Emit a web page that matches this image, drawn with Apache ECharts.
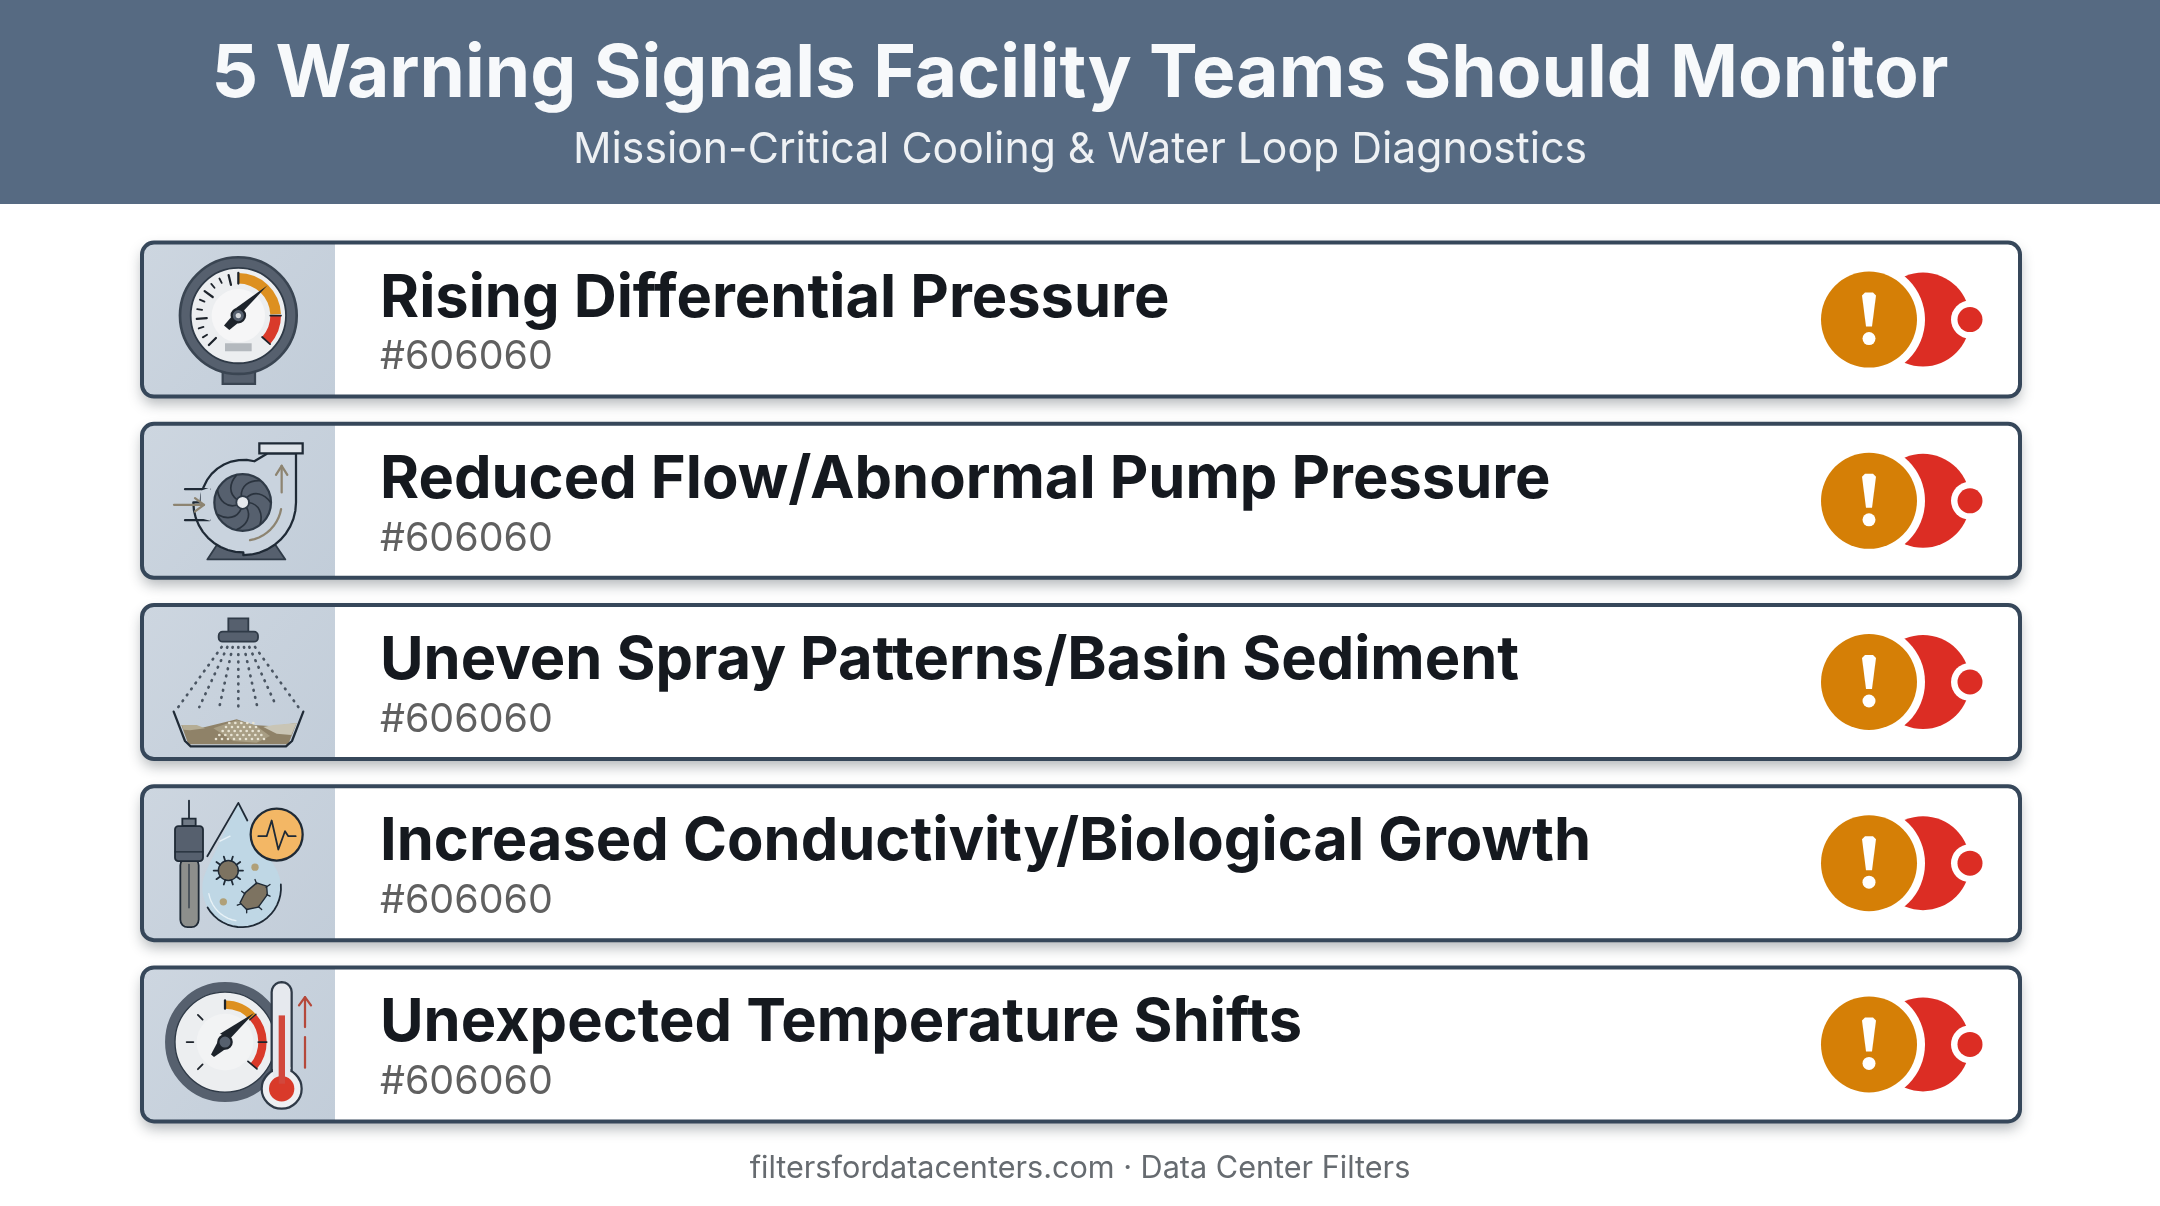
<!DOCTYPE html>
<html>
<head>
<meta charset="utf-8">
<title>5 Warning Signals</title>
<script src="https://cdn.jsdelivr.net/npm/echarts@6/dist/echarts.min.js"></script>
<style>
html,body{margin:0;padding:0;background:#fff;}
#main{width:2160px;height:1206px;}
</style>
</head>
<body>
<div id="main"></div>
<script>
var mainTitle = "5 Warning Signals Facility Teams Should Monitor";
var subTitle = "Mission-Critical Cooling & Water Loop Diagnostics";
var footerText = "filtersfordatacenters.com · Data Center Filters";
var signalTitles = ["Rising Differential Pressure","Reduced Flow/Abnormal Pump Pressure","Uneven Spray Patterns/Basin Sediment","Increased Conductivity/Biological Growth","Unexpected Temperature Shifts"];
var signalNotes = ["#606060","#606060","#606060","#606060","#606060"];
var signalIcons = ["gauge","pump","spray","probe","thermo"];

var DARK = "#36475a", STEEL = "#56606e", TAN = "#8d8471";
var WIDEN = 1.35;

/*图形小函数*/
function circ(x,y,r,fill,stroke,lw){
    return {type:"circle",shape:{cx:x,cy:y,r:r},style:{fill:fill||null,stroke:stroke||null,lineWidth:(lw||0)*WIDEN}};
}
function rect(x,y,w,h,fill,stroke,lw,r){
    return {type:"rect",shape:{x:x,y:y,width:w,height:h,r:r||0},style:{fill:fill||null,stroke:stroke||null,lineWidth:(lw||0)*WIDEN}};
}
function line(pts,stroke,lw,dash){
    return {type:"polyline",shape:{points:pts},style:{fill:null,stroke:stroke,lineWidth:lw*WIDEN,lineCap:"round",lineJoin:"round",lineDash:dash||null}};
}
function poly(pts,fill,stroke,lw){
    return {type:"polygon",shape:{points:pts},style:{fill:fill||null,stroke:stroke||null,lineWidth:(lw||0)*WIDEN,lineJoin:"round"}};
}
function sect(x,y,r0,r,a0,a1,fill){
    return {type:"sector",shape:{cx:x,cy:y,r0:r0,r:r,startAngle:a0*Math.PI/180,endAngle:a1*Math.PI/180,clockwise:true},style:{fill:fill}};
}
function arc(x,y,r,a0,a1,n){
    var pts = [];
    for(var i=0;i<=n;i++){
        var a = (a0+(a1-a0)*i/n)*Math.PI/180;
        pts.push([x+r*Math.cos(a),y+r*Math.sin(a)]);
    }
    return pts;
}
function ray(x,y,r0,r,deg,stroke,lw){
    var a = deg*Math.PI/180;
    return line([[x+r0*Math.cos(a),y+r0*Math.sin(a)],[x+r*Math.cos(a),y+r*Math.sin(a)]],stroke,lw);
}

/*图标, 坐标是放大3倍后的像素*/
function gaugeIcon(){
    var c = [];
    var x = 325, y = 255;
    c.push(rect(278,415,97,45,STEEL,"#3a4552",5));
    c.push(circ(x,y,175,STEEL,"#3a4552",6));
    c.push(circ(x,y,143,"#eceef0","#2f3a47",4));
    c.push(circ(x,y,80,"#f6f6f7"));
    c.push(sect(x,y,96,128,-90,-2,"#dd9020"));
    c.push(sect(x,y,96,128,0,42,"#d93a2a"));
    c.push(ray(x,y,96,128,-90,"#1d232b",5));
    c.push(ray(x,y,96,128,0,"#1d232b",4));
    c.push(ray(x,y,96,128,42,"#1d232b",4));
    for(var i=1;i<=10;i++){
        var deg = -90-i*13.5;
        var major = i%3==1;
        c.push(ray(x,y,major?95:110,125,deg,"#1d232b",major?5:4));
    }
    c.push(rect(285,338,80,24,"#b4b9be"));
    c.push(poly([[412,165],[342,240],[318,232]],"#1d232b"));
    c.push(poly([[282,285],[316,245],[335,268],[298,298]],"#1d232b"));
    c.push(circ(x,y,20,STEEL,"#1d232b",5));
    c.push(circ(x,y,8,"#d5d8dc"));
    return {y0:267,children:c};
}
function pumpIcon(){
    var c = [];
    var body = arc(340,815,128,-75,-180,10).concat(arc(340,815,150,180,90,10)).concat(arc(340,815,158,90,0,10));
    var pts = [[412,668]].concat(body).concat([[498,668]]);
    c.push(poly([[262,940],[232,986],[466,986],[435,940]],STEEL,"#2f3a47",4));
    c.push(poly(pts,"#c9d3de","#1f2a36",5));
    c.push(rect(388,638,130,30,"#dfe4ea","#1f2a36",5));
    c.push(line([[165,775],[238,775]],"#1f2a36",5));
    c.push(line([[165,868],[238,868]],"#1f2a36",5));
    c.push(poly([[212,780],[240,770],[240,870],[212,862]],"#c9d3de"));
    c.push(line([[132,822],[222,822]],TAN,5));
    c.push(line([[195,802],[222,822],[195,842]],TAN,5));
    c.push(line([[455,785],[455,705]],TAN,5));
    c.push(line([[438,732],[455,705],[472,732]],TAN,5));
    c.push(line(arc(340,815,115,80,10,10),TAN,5));
    c.push(circ(338,815,85,STEEL,"#2f3a47",5));
    for(var i=0;i<7;i++){
        var a = i*Math.PI*2/7;
        var b = a+0.9;
        c.push({type:"bezierCurve",shape:{x1:338+18*Math.cos(a),y1:815+18*Math.sin(a),x2:338+84*Math.cos(b),y2:815+84*Math.sin(b),cpx1:338+50*Math.cos(a+0.1),cpy1:815+50*Math.sin(a+0.1),cpx2:338+70*Math.cos(a+0.5),cpy2:815+70*Math.sin(a+0.5)},style:{fill:null,stroke:"#2a333e",lineWidth:5}});
    }
    c.push(circ(338,815,19,"#e6e9ed","#2f3a47",4));
    return {y0:810,children:c};
}
function sprayIcon(){
    var c = [];
    c.push(rect(295,52,60,42,STEEL,"#2f3a47",4));
    c.push(rect(266,92,118,30,STEEL,"#2f3a47",4,12));
    var ends = [145,208,268,325,382,440,505];
    var starts = [275,292,308,325,342,358,375];
    for(var i=0;i<ends.length;i++){
        c.push(line([[starts[i],138],[ends[i],318]],"#4a5562",6,[2,20]));
    }
    c.push(poly([[154,372],[210,382],[290,362],[320,355],[370,372],[430,376],[500,366],[475,430],[175,430]],"#8f8268"));
    c.push(poly([[400,378],[430,372],[500,366],[484,402],[440,398]],"#c9c5b5"));
    c.push(poly([[156,372],[200,372],[225,382],[180,388],[160,386]],"#b5ad95"));
    c.push(poly([[250,382],[320,358],[375,372],[420,405],[380,425],[310,420]],"#a89e84"));
    for(var r=0;r<5;r++){
        for(var k=0;k<9-r;k++){
            c.push(circ(258+r*10+k*18,414-r*12,4,"#e8e4d4"));
        }
    }
    c.push(line([[131,332],[165,420],[182,436],[468,436],[486,420],[520,332]],"#1f2a36",5));
    return {y0:243,children:c};
}
function probeIcon(){
    var c = [];
    var drop = [[232,225],[325,65],[352,118]];
    c.push(poly([[325,65]].concat(arc(335,320,118,-25,205,26)),"#bfd7e5"));
    c.push(line(drop,"#1f2a36",4));
    c.push(line(arc(335,320,118,-5,150,20),"#1f2a36",4));
    c.push(line(arc(335,320,100,100,170,10),"#e8f2f7",3));
    c.push(line([[270,180],[300,165]],"#e8f2f7",3));
    c.push(line([[177,58],[177,112]],"#1f2a36",4));
    c.push(rect(157,112,40,22,"#6f7985","#1f2a36",4));
    c.push(rect(151,230,55,208,"#8d8f8c","#1f2a36",4,22));
    c.push(line([[177,250],[177,380]],"#2f3a47",3));
    c.push(rect(135,135,84,105,STEEL,"#1f2a36",4,10));
    c.push(line([[135,212],[219,212]],"#1f2a36",3));
    c.push(circ(295,268,30,"#7d7361","#1f2a36",3));
    for(var i=0;i<10;i++){
        c.push(ray(295,268,30,44,i*36,"#1f2a36",4));
    }
    c.push(poly([[330,365],[345,335],[380,305],[410,315],[412,340],[385,378],[350,385]],"#7d7361","#1f2a36",3));
    var spikes = [[322,372],[335,330],[375,295],[420,310],[420,345],[395,385],[350,395]];
    var from = [[333,368],[345,338],[380,308],[408,318],[410,340],[385,376],[350,384]];
    for(var k=0;k<spikes.length;k++){
        c.push(line([from[k],spikes[k]],"#1f2a36",3));
    }
    c.push(circ(375,258,11,"#b0a078"));
    c.push(circ(280,362,11,"#b0a078"));
    c.push(circ(440,160,78,"#f3b765","#1f2a36",5));
    c.push(line([[385,165],[410,165],[425,118],[445,205],[465,150],[475,165],[497,165]],"#1f2a36",4));
    return {y0:246,children:c};
}
function thermoIcon(){
    var c = [];
    var x = 285, y = 785;
    c.push(circ(x,y,165,"#eceef0",STEEL,22));
    c.push(circ(x,y,85,"#f2f3f4"));
    c.push(circ(x,y,150,null,"#2f3a47",3));
    c.push(sect(x,y,100,125,-90,-42,"#dd9020"));
    c.push(sect(x,y,100,125,-42,40,"#d93a2a"));
    c.push(ray(x,y,100,125,-90,"#1d232b",5));
    c.push(ray(x,y,100,125,-42,"#1d232b",3));
    c.push(ray(x,y,100,125,0,"#1d232b",4));
    c.push(ray(x,y,90,125,40,"#1d232b",4));
    c.push(ray(x,y,115,95,180,"#1d232b",4));
    c.push(ray(x,y,115,95,-135,"#1d232b",4));
    c.push(ray(x,y,115,95,135,"#1d232b",4));
    c.push(poly([[372,698],[300,775],[270,760]],"#1d232b"));
    c.push(poly([[243,822],[268,775],[295,800],[252,830]],"#1d232b"));
    c.push(circ(x,y,20,STEEL,"#1d232b",5));
    c.push(poly(arc(455,635,30,180,360,10).concat([[485,870],[425,870]]),"#e6e9ee","#2f3a47",5));
    c.push(circ(455,925,60,"#eef0f3","#2f3a47",5));
    c.push(rect(429,860,52,30,"#e6e9ee"));
    c.push(circ(455,925,38,"#d93a2a"));
    c.push(rect(446,705,19,205,"#d2483c"));
    c.push(line([[525,740],[525,650]],"#b5483a",5));
    c.push(line([[507,675],[525,650],[543,675]],"#b5483a",5));
    c.push(line([[525,770],[525,862]],"#b5483a",5));
    return {y0:792,children:c};
}
var iconMakers = {gauge:gaugeIcon,pump:pumpIcon,spray:sprayIcon,probe:probeIcon,thermo:thermoIcon};

function alertBadge(cy){
    var c = [];
    c.push(circ(1923,cy,47,"#dc2d24"));
    c.push(circ(1869,cy,56,"#ffffff"));
    c.push(circ(1869,cy,48,"#d57f06"));
    c.push(poly([[1862,cy-24],[1865,cy-27],[1873,cy-27],[1876,cy-24],[1872,cy+7],[1866,cy+7]],"#ffffff"));
    c.push(circ(1869,cy+19,6.5,"#ffffff"));
    c.push(circ(1970,cy,19,"#ffffff"));
    c.push(circ(1970,cy,12.5,"#dc2d24"));
    return c;
}

function renderCard(params,api){
    var i = api.value(1);
    var left = api.coord([0,i]);
    var right = api.coord([1,i]);
    var cy = left[1];
    var x0 = left[0], x1 = right[0];
    var icon = iconMakers[signalIcons[i]]();
    var top = cy-77, h = 154;
    var panelFill = new echarts.graphic.LinearGradient(0,0,1,1,[{offset:0,color:"#cdd6e0"},{offset:1,color:"#c2cdd9"}]);
    var kids = [
        {type:"rect",shape:{x:x0,y:top,width:x1-x0,height:h,r:12},style:{fill:"#fff",shadowBlur:14,shadowOffsetY:7,shadowColor:"rgba(30,40,50,0.35)"}},
        {type:"rect",shape:{x:x0,y:top,width:335-x0,height:h,r:[12,0,0,12]},style:{fill:panelFill}},
        {type:"group",x:130,y:cy-icon.y0/3,scaleX:1/3,scaleY:1/3,children:icon.children},
        {type:"rect",shape:{x:x0,y:top,width:x1-x0,height:h,r:12},style:{fill:null,stroke:DARK,lineWidth:4}},
        {type:"text",style:{text:signalTitles[i],x:380,y:cy-21,fill:"#15191f",font:"700 59.6px Inter",verticalAlign:"middle"}},
        {type:"text",style:{text:signalNotes[i],x:380,y:cy+38,fill:"#606060",font:"400 39.4px Inter",verticalAlign:"middle"}}
    ].concat(alertBadge(cy));
    return {type:"group",children:kids};
}

var chart = echarts.init(document.getElementById("main"));
chart.setOption({
    animation:false,
    backgroundColor:"#ffffff",
    title:[
        {text:mainTitle,left:"center",top:34,textStyle:{fontFamily:"Inter",fontWeight:700,fontSize:73,color:"#f7f9fb"}},
        {text:subTitle,left:"center",top:124,textStyle:{fontFamily:"Inter",fontWeight:400,fontSize:42.7,color:"#eef1f4"}},
        {text:footerText,left:"center",top:1148,textStyle:{fontFamily:"Inter",fontWeight:400,fontSize:30.6,color:"#666b70"}}
    ],
    graphic:[{type:"rect",z:-1,shape:{x:0,y:0,width:2160,height:204},style:{fill:"#566a82"}}],
    grid:{left:142,right:140,top:229,height:906},
    xAxis:{type:"value",min:0,max:1,show:false},
    yAxis:{type:"category",inverse:true,data:signalTitles,show:false},
    series:[{
        type:"custom",
        clip:false,
        renderItem:renderCard,
        encode:{x:0,y:1},
        data:signalTitles.map(function(t,i){return [1,i];})
    }]
});
</script>
</body>
</html>
